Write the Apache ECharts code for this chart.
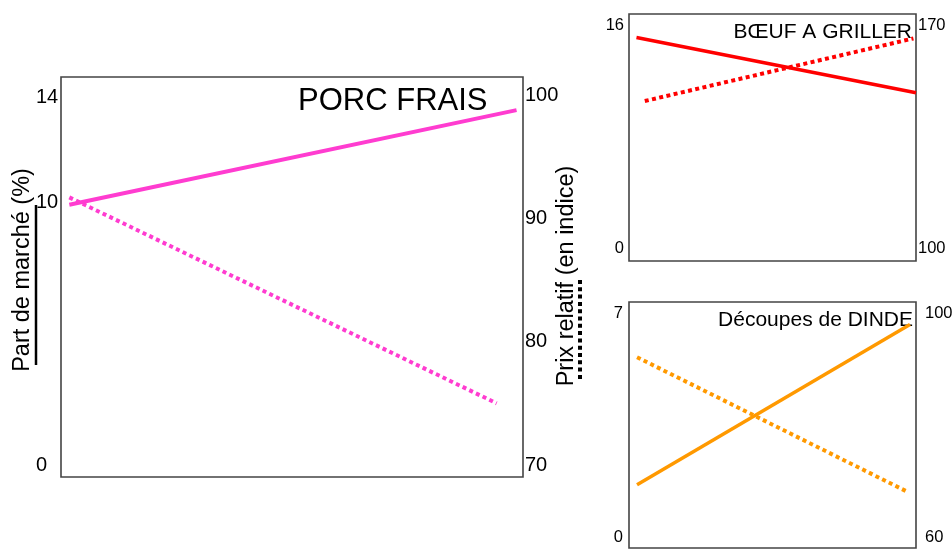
<!DOCTYPE html>
<html><head><meta charset="utf-8">
<script src="https://cdn.jsdelivr.net/npm/echarts@6/dist/echarts.min.js"></script>
<style>html,body{margin:0;padding:0;background:#fff}#c{width:952px;height:550px}</style>
</head><body><div id="c"></div><script>
// ---- data (x = position within the period, 0..1) ----
const porcPartX = [0.018, 0.986];
const porcPart = [9.9, 13.5];          // Part de marché (%)
const porcPrixX = [0.018, 0.943];
const porcPrix = [91.7, 75.0];         // Prix relatif (indice)

const boeufPartX = [0.026, 1.0];
const boeufPart = [15.1, 11.15];
const boeufPrixX = [0.055, 0.991];
const boeufPrix = [146.2, 165.8];

const dindePartX = [0.028, 0.979];
const dindePart = [1.64, 6.66];
const dindePrixX = [0.028, 0.973];
const dindePrix = [92.1, 68.0];

// tick labels
const porcLeftTicks = [0, 10, 14];
const porcRightTicks = [70, 80, 90, 100];
const boeufLeftTicks = [0, 16];
const boeufRightTicks = [100, 170];
const dindeLeftTicks = [0, 7];
const dindeRightTicks = [60, 100];

const titles = ['PORC FRAIS', 'BŒUF A GRILLER', 'Découpes de DINDE'];
const leftName = 'Part de marché (%)';
const rightName = 'Prix relatif (en indice)';

const FONT = '"Liberation Sans", Arial, sans-serif';
const pair = (xs, ys) => xs.map((x, i) => [x, ys[i]]);

function yAx(grid, pos, min, max, ticks, size, margin, align) {
  return {
    type: 'value', gridIndex: grid, position: pos, min: min, max: max,
    axisLine: {show: false}, axisTick: {show: false}, splitLine: {show: false},
    axisLabel: {customValues: ticks, fontSize: size, color: '#000', fontFamily: FONT,
      margin: margin, align: align}
  };
}
function xAx(grid) {
  return {type: 'value', gridIndex: grid, min: 0, max: 1, show: false};
}
function ln(xi, yi, data, color, w, dotted) {
  return {
    type: 'line', xAxisIndex: xi, yAxisIndex: yi, data: data, showSymbol: false,
    symbol: 'none', silent: true, animation: false,
    lineStyle: {color: color, width: w, type: dotted ? [w, w * 0.85] : 'solid', cap: 'butt'}
  };
}

const MAG = '#ff3cd0', RED = '#ff0000', ORA = '#ff9900';
const gridStyle = {show: true, borderColor: '#444', borderWidth: 1.6, backgroundColor: 'transparent',
  containLabel: false, outerBoundsMode: 'none'};

const option = {
  animation: false,
  backgroundColor: '#fff',
  grid: [
    Object.assign({left: 61, top: 77, width: 462, height: 400}, gridStyle),
    Object.assign({left: 629, top: 14, width: 287, height: 247}, gridStyle),
    Object.assign({left: 629, top: 302, width: 287, height: 246}, gridStyle)
  ],
  xAxis: [xAx(0), xAx(1), xAx(2)],
  yAxis: [
    yAx(0, 'left', -0.4565, 14.761, porcLeftTicks, 20, 25, 'left'),
    yAx(0, 'right', 69.027, 101.459, porcRightTicks, 20, 2, 'left'),
    yAx(1, 'left', -0.889, 16.788, boeufLeftTicks, 16.5, 5, 'right'),
    yAx(1, 'right', 96.11, 173.45, boeufRightTicks, 16.5, 2, 'left'),
    yAx(2, 'left', -0.345, 7.367, dindeLeftTicks, 16.5, 6, 'right'),
    yAx(2, 'right', 58.04, 101.96, dindeRightTicks, 16.5, 9, 'left')
  ],
  series: [
    ln(0, 0, pair(porcPartX, porcPart), MAG, 4, false),
    ln(0, 1, pair(porcPrixX, porcPrix), MAG, 4, true),
    ln(1, 2, pair(boeufPartX, boeufPart), RED, 3.5, false),
    ln(1, 3, pair(boeufPrixX, boeufPrix), RED, 4, true),
    ln(2, 4, pair(dindePartX, dindePart), ORA, 3.5, false),
    ln(2, 5, pair(dindePrixX, dindePrix), ORA, 4, true)
  ],
  graphic: [
    {type: 'text', x: 487.5, y: 101, style: {text: titles[0], font: '31px ' + FONT, fill: '#000', align: 'right', verticalAlign: 'middle'}},
    {type: 'text', x: 912, y: 32.5, style: {text: titles[1], font: '21px ' + FONT, fill: '#000', align: 'right', verticalAlign: 'middle'}},
    {type: 'text', x: 913, y: 320, style: {text: titles[2], font: '21px ' + FONT, fill: '#000', align: 'right', verticalAlign: 'middle'}},
    {type: 'text', x: 22.5, y: 270, rotation: Math.PI / 2, style: {text: leftName, font: '23.5px ' + FONT, fill: '#000', align: 'center', verticalAlign: 'middle'}},
    {type: 'text', x: 566.5, y: 276, rotation: Math.PI / 2, style: {text: rightName, font: '23.5px ' + FONT, fill: '#000', align: 'center', verticalAlign: 'middle'}},
    {type: 'line', shape: {x1: 36, y1: 205, x2: 36, y2: 365}, style: {stroke: '#000', lineWidth: 2.5}},
    {type: 'line', shape: {x1: 580, y1: 280, x2: 580, y2: 382}, style: {stroke: '#000', lineWidth: 4, lineDash: [4, 3.3]}}
  ]
};
const chart = echarts.init(document.getElementById('c'), null, {renderer: 'canvas'});
chart.setOption(option);
</script></body></html>
